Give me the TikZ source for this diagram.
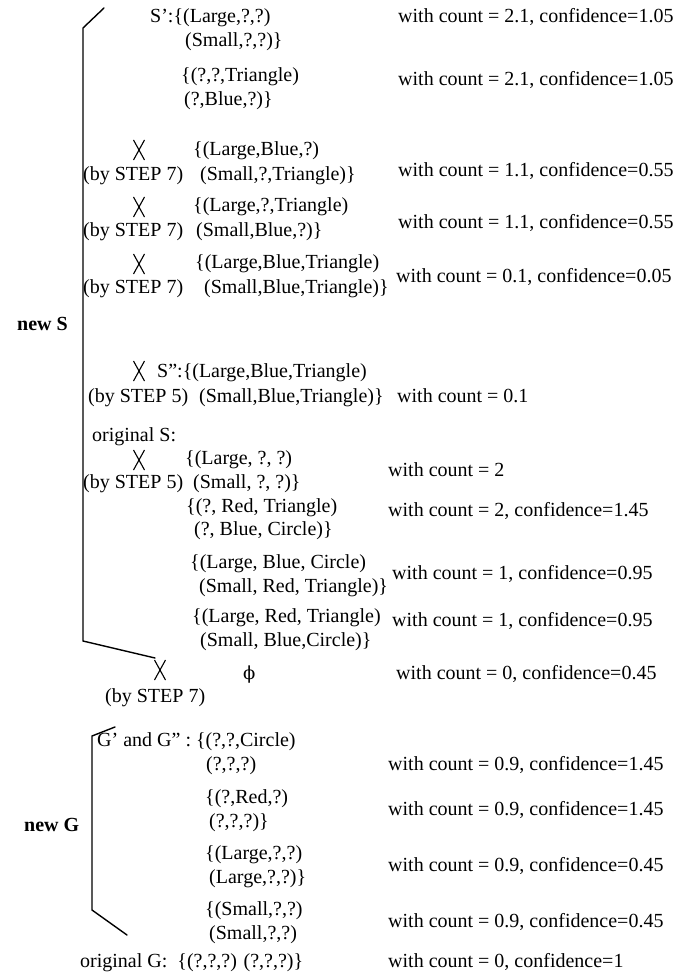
\documentclass[tikz,border=0pt]{standalone}
\usepackage{fontspec}
\setmainfont{Liberation Serif}
\newfontfamily\phifont{DejaVu Serif}
\begin{document}
\begin{tikzpicture}[x=1pt,y=-1pt,
  txt/.style={inner sep=0pt,anchor=base west,font=\fontsize{20}{24}\selectfont},
  lbl/.style={txt,font=\fontsize{20}{24}\selectfont\bfseries},
  brk/.style={line width=1.4pt,line cap=round,line join=miter},
  xm/.pic={\draw[line width=1.1pt] (-5.5,-10) -- (5.5,10) (5.5,-10) -- (-5.5,10);}]
\useasboundingbox (0,0) rectangle (689,973);
% ---------- new S ----------
\node[lbl] (newS) at (17,330) {new S};
\coordinate (sT) at (104,8);
\coordinate (sA) at (83,28);
\coordinate (sB) at (83,641);
\coordinate (sC) at (155,658);
\draw[brk] (sT) -- (sA) -- (sB) -- (sC);
% S'
\node[txt] (a1) at (150,23) {S':\{(Large,?,?)};
\node[txt] (a2) at (185,47) {(Small,?,?)\}};
\node[txt] (ar) at (398,23) {with count = 2.1, confidence=1.05};
% row 2
\node[txt] (b1) at (181,82) {\{(?,?,Triangle)};
\node[txt] (b2) at (184,106) {(?,Blue,?)\}};
\node[txt] (br) at (398,86) {with count = 2.1, confidence=1.05};
% row 3
\pic at (139,150) {xm};
\node[txt] (c1) at (193,156) {\{(Large,Blue,?)};
\node[txt] (cs) at (83,181) {(by STEP 7)};
\node[txt] (c2) at (200,181) {(Small,?,Triangle)\}};
\node[txt] (cr) at (398,177) {with count = 1.1, confidence=0.55};
% row 4
\pic at (139,207) {xm};
\node[txt] (d1) at (193,212) {\{(Large,?,Triangle)};
\node[txt] (ds) at (83,237) {(by STEP 7)};
\node[txt] (d2) at (196,237) {(Small,Blue,?)\}};
\node[txt] (dr) at (398,229) {with count = 1.1, confidence=0.55};
% row 5
\pic at (139,264) {xm};
\node[txt] (e1) at (195,269) {\{(Large,Blue,Triangle)};
\node[txt] (es) at (83,294) {(by STEP 7)};
\node[txt] (e2) at (204,294) {(Small,Blue,Triangle)\}};
\node[txt] (er) at (396,283) {with count = 0.1, confidence=0.05};
% S''
\pic at (139,371) {xm};
\node[txt] (f1) at (157,377) {S'':\{(Large,Blue,Triangle)};
\node[txt] (fs) at (88,402) {(by STEP 5)};
\node[txt] (f2) at (199,402) {(Small,Blue,Triangle)\}};
\node[txt] (fr) at (397,402) {with count = 0.1};
% original S
\node[txt] (g0) at (92,441) {original S:};
\pic at (139,460) {xm};
\node[txt] (g1) at (185,464) {\{(Large, ?, ?)};
\node[txt] (gs) at (83,488) {(by STEP 5)};
\node[txt] (g2) at (193,488) {(Small, ?, ?)\}};
\node[txt] (gr) at (388,476) {with count = 2};
\node[txt] (h1) at (186,512) {\{(?, Red, Triangle)};
\node[txt] (h2) at (194,535) {(?, Blue, Circle)\}};
\node[txt] (hr) at (388,516) {with count = 2, confidence=1.45};
\node[txt] (i1) at (190,568) {\{(Large, Blue, Circle)};
\node[txt] (i2) at (199,592) {(Small, Red, Triangle)\}};
\node[txt] (ir) at (392,579) {with count = 1, confidence=0.95};
\node[txt] (j1) at (192,622) {\{(Large, Red, Triangle)};
\node[txt] (j2) at (200,646) {(Small, Blue,Circle)\}};
\node[txt] (jr) at (392,626) {with count = 1, confidence=0.95};
% empty set row
\pic at (160,670) {xm};
\node[txt,font=\fontsize{18}{22}\phifont] (phi) at (243,679) {ϕ};
\node[txt] (ks) at (105,702) {(by STEP 7)};
\node[txt] (kr) at (396,679) {with count = 0, confidence=0.45};
% ---------- new G ----------
\node[lbl] (newG) at (24,831) {new G};
\coordinate (gT) at (115,727);
\coordinate (gA) at (92,736);
\coordinate (gB) at (92,910);
\coordinate (gC) at (127,935);
\draw[brk] (gT) -- (gA) -- (gB) -- (gC);
\node[txt] (m1) at (97,746) {G' and G'' : \{(?,?,Circle)};
\node[txt] (m2) at (206,770) {(?,?,?)};
\node[txt] (mr) at (388,770) {with count = 0.9, confidence=1.45};
\node[txt] (n1) at (205,803) {\{(?,Red,?)};
\node[txt] (n2) at (209,827) {(?,?,?)\}};
\node[txt] (nr) at (388,815) {with count = 0.9, confidence=1.45};
\node[txt] (o1) at (205,859) {\{(Large,?,?)};
\node[txt] (o2) at (209,883) {(Large,?,?)\}};
\node[txt] (or) at (388,871) {with count = 0.9, confidence=0.45};
\node[txt] (p1) at (205,915) {\{(Small,?,?)};
\node[txt] (p2) at (209,939) {(Small,?,?)};
\node[txt] (pr) at (388,927) {with count = 0.9, confidence=0.45};
\node[txt] (q1) at (80,967) {original G:~~\{(?,?,?) (?,?,?)\}};
\node[txt] (qr) at (388,967) {with count = 0, confidence=1};
\end{tikzpicture}
\end{document}
